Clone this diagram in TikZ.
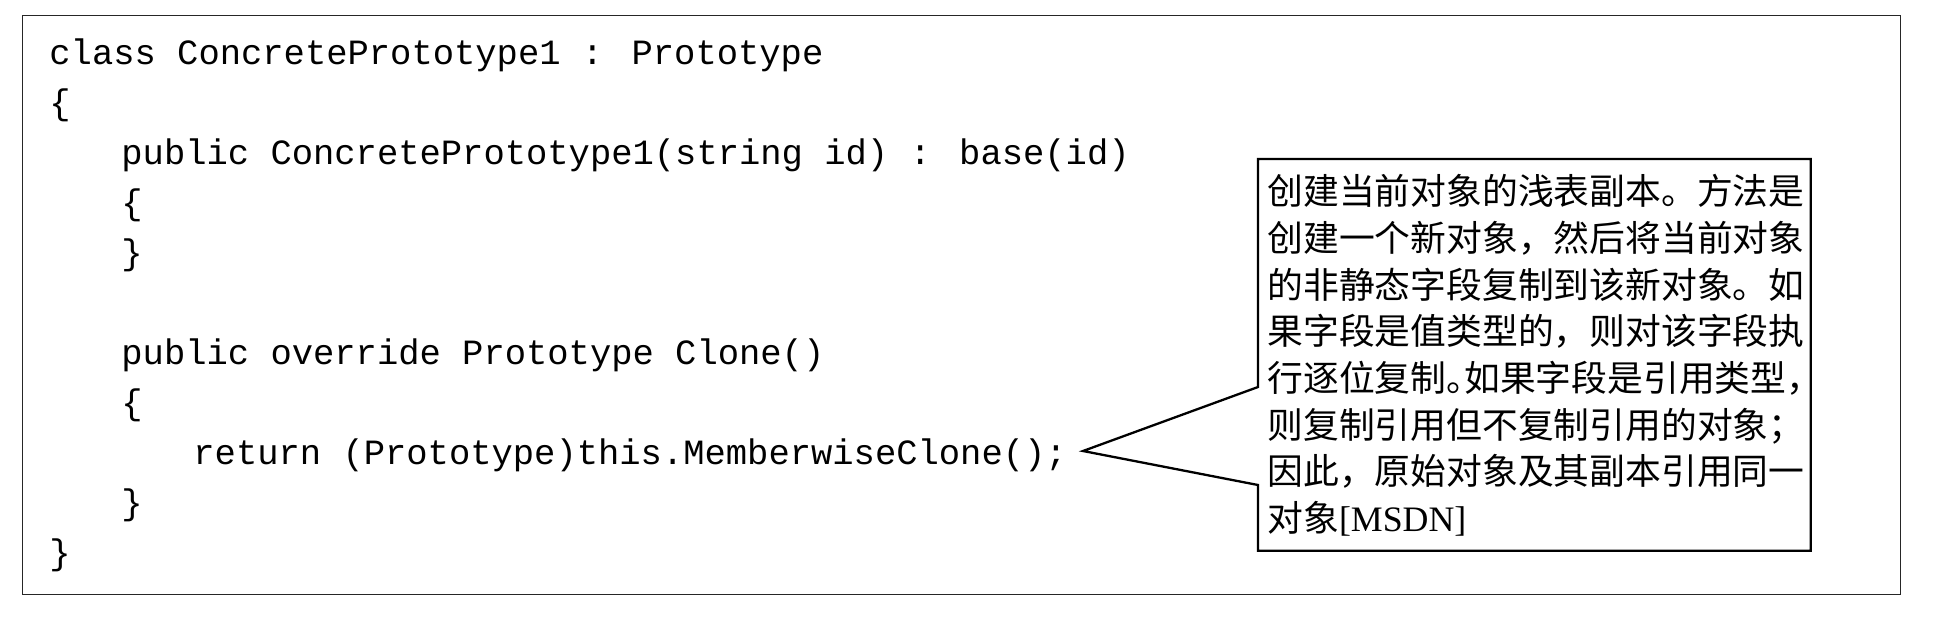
\documentclass[tikz,border=0pt]{standalone}
\usepackage{fontspec}
\setmainfont{Liberation Serif}
\newfontfamily\codefont{Liberation Mono}
\newfontfamily\cjk{Noto Sans CJK SC}
\newcommand{\halfstop}{\makebox[0.5em][l]{。}}
\begin{document}
\begin{tikzpicture}[x=0.5pt,y=-0.5pt,
  codeline/.style={anchor=base west,inner sep=0pt,font=\codefont\fontsize{17.75}{20}\selectfont},
  noteline/.style={anchor=base west,inner sep=0pt,font=\cjk\fontsize{17.9}{22}\selectfont},
  frame/.style={draw=black!85,line width=0.65pt},
  callout/.style={draw=black,line width=1.15pt,line join=miter}]
\useasboundingbox (0,0) rectangle (1957,622);
% outer frame
\node[frame,anchor=north west,minimum width=1878*0.5pt,minimum height=579*0.5pt,inner sep=0pt] (outer) at (22,15) {};
% code
\node[codeline] (c1) at (49,64) {class ConcretePrototype1 : Prototype};
\node[codeline] (c2) at (49,114) {\{};
\node[codeline] (c3) at (121,164) {public ConcretePrototype1(string id) : base(id)};
\node[codeline] (c4) at (121,214) {\{};
\node[codeline] (c5) at (121,264) {\}};
\node[codeline] (c6) at (121,364) {public override Prototype Clone()};
\node[codeline] (c7) at (121,414) {\{};
\node[codeline] (ret) at (193,464) {return (Prototype)this.MemberwiseClone();};
\node[codeline] (c9) at (121,514) {\}};
\node[codeline] (c10) at (49,564) {\}};
% callout box
\node[anchor=north west,minimum width=552*0.5pt,minimum height=391*0.5pt,inner sep=0pt] (note) at (1258,159) {};
\coordinate (tip) at (1083,451);
\coordinate (attA) at (1258,387);
\coordinate (attB) at (1258,485);
\draw[callout] (attA) -- (note.north west) -- (note.north east) -- (note.south east) -- (note.south west) -- (attB) -- (tip) -- cycle;
% note text
\node[noteline] (n1) at (1267,204.6) {创建当前对象的浅表副本。方法是};
\node[noteline] (n2) at (1267,251.3) {创建一个新对象，然后将当前对象};
\node[noteline] (n3) at (1267,298) {的非静态字段复制到该新对象。如};
\node[noteline] (n4) at (1267,344.7) {果字段是值类型的，则对该字段执};
\node[noteline] (n5) at (1267,391.4) {行逐位复制\halfstop 如果字段是引用类型，};
\node[noteline] (n6) at (1267,438.1) {则复制引用但不复制引用的对象；};
\node[noteline] (n7) at (1267,484.8) {因此，原始对象及其副本引用同一};
\node[noteline] (n8) at (1267,531.5) {对象{\rmfamily[MSDN]}};
\end{tikzpicture}
\end{document}
